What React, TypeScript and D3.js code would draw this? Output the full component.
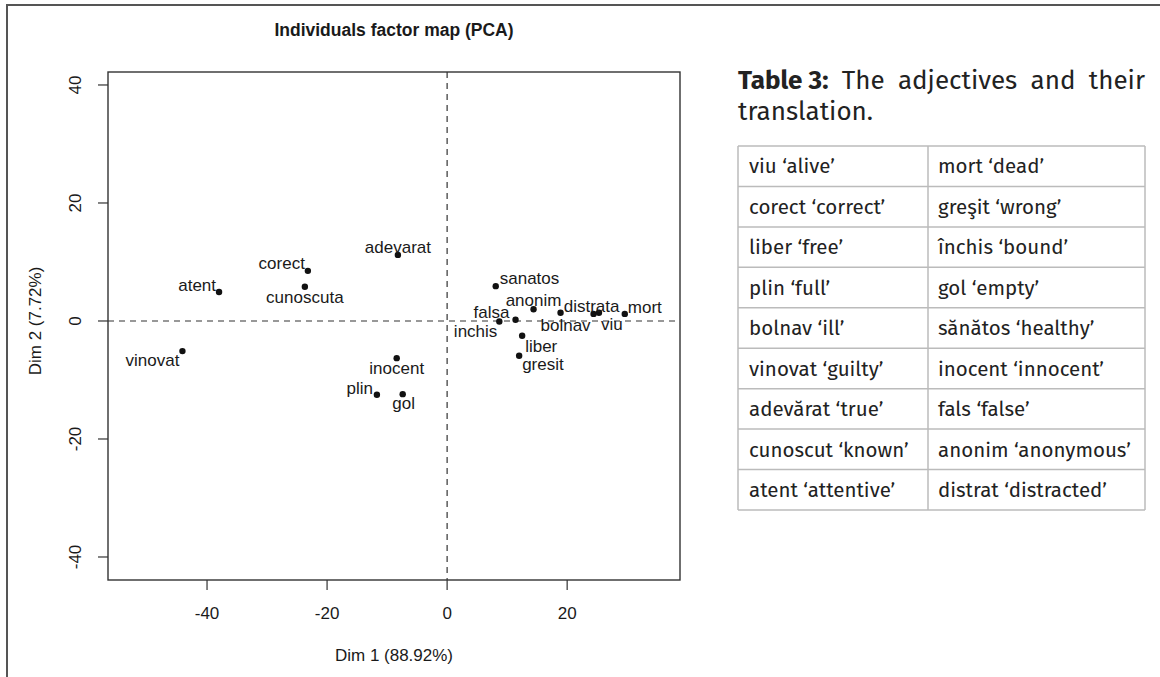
import React, { useEffect, useRef } from 'react';
import * as d3 from 'd3';

// PCA individuals (adjectives)
const words = ['vinovat', 'atent', 'corect', 'cunoscuta', 'adevarat', 'inocent', 'plin', 'gol',
  'sanatos', 'inchis', 'falsa', 'anonim', 'bolnav', 'distrata', 'viu', 'mort', 'liber', 'gresit'];
const dim1 = [-44.1, -38.0, -23.2, -23.7, -8.2, -8.4, -11.7, -7.4,
  8.1, 8.7, 11.4, 14.4, 18.9, 24.4, 25.3, 29.6, 12.5, 12.0];
const dim2 = [-5.1, 4.9, 8.5, 5.8, 11.2, -6.3, -12.5, -12.4,
  5.9, -0.1, 0.2, 2.0, 1.4, 1.2, 1.4, 1.2, -2.5, -5.9];

const xTicks = [-40, -20, 0, 20];
const yTicks = [-40, -20, 0, 20, 40];

const tableLeft = ['viu ‘alive’', 'corect ‘correct’', 'liber ‘free’', 'plin ‘full’', 'bolnav ‘ill’',
  'vinovat ‘guilty’', 'adevărat ‘true’', 'cunoscut ‘known’', 'atent ‘attentive’'];
const tableRight = ['mort ‘dead’', 'greşit ‘wrong’', 'închis ‘bound’', 'gol ‘empty’', 'sănătos ‘healthy’',
  'inocent ‘innocent’', 'fals ‘false’', 'anonim ‘anonymous’', 'distrat ‘distracted’'];

// where each label sits relative to its dot: anchor, dx, dy (px)
const labelPos: [string, number, number][] = [
  ['end', -3, 9], ['end', -3, -7], ['end', -3, -8], ['middle', 0, 10], ['middle', 0, -8],
  ['middle', 0, 10], ['end', -4, -7], ['middle', 1, 9], ['start', 4, -8], ['end', -2, 9],
  ['end', -6, -8], ['middle', 0, -9], ['middle', 5, 12], ['middle', -2, -8], ['start', 2, 11],
  ['start', 3, -7], ['start', 3, 10], ['start', 3, 8],
];

const rFont = '"Liberation Sans", Arial, Helvetica, sans-serif';
const tFont = '"Fira Sans", "Noto Sans", "Open Sans", sans-serif';

const App: React.FC = () => {
  const svgRef = useRef<SVGSVGElement>(null);

  useEffect(() => {
    if (!svgRef.current) return;
    const svg = d3.select(svgRef.current);
    svg.selectAll('*').remove();

    // page frame
    svg.append('path')
      .attr('d', 'M7,677V5H1160')
      .attr('fill', 'none')
      .attr('stroke', '#555')
      .attr('stroke-width', 2);

    const left = 108, right = 680, top = 72, bottom = 580;
    const x = d3.scaleLinear().domain([-56.5, 38.8]).range([left, right]);
    const y = d3.scaleLinear().domain([-43.9, 42.2]).range([bottom, top]);

    const g = svg.append('g').attr('font-family', rFont).attr('fill', '#1a1a1a');

    g.append('text')
      .attr('x', (left + right) / 2)
      .attr('y', 36)
      .attr('text-anchor', 'middle')
      .attr('font-size', 17.5)
      .attr('font-weight', 'bold')
      .text('Individuals factor map (PCA)');

    // reference lines
    g.append('line')
      .attr('x1', left).attr('x2', right).attr('y1', y(0)).attr('y2', y(0))
      .attr('stroke', '#333').attr('stroke-dasharray', '6,5').attr('stroke-width', 1.2);
    g.append('line')
      .attr('x1', x(0)).attr('x2', x(0)).attr('y1', top).attr('y2', bottom)
      .attr('stroke', '#333').attr('stroke-dasharray', '6,5').attr('stroke-width', 1.2);

    g.append('rect')
      .attr('x', left).attr('y', top)
      .attr('width', right - left).attr('height', bottom - top)
      .attr('fill', 'none').attr('stroke', '#333').attr('stroke-width', 1.4);

    // x axis
    const xa = g.append('g');
    xa.selectAll('line').data(xTicks).join('line')
      .attr('x1', d => x(d)).attr('x2', d => x(d))
      .attr('y1', bottom).attr('y2', bottom + 10)
      .attr('stroke', '#333').attr('stroke-width', 1.2);
    xa.selectAll('text').data(xTicks).join('text')
      .attr('x', d => x(d)).attr('y', bottom + 39)
      .attr('text-anchor', 'middle').attr('font-size', 17)
      .text(d => String(d));

    // y axis
    const ya = g.append('g');
    ya.selectAll('line').data(yTicks).join('line')
      .attr('x1', left).attr('x2', left - 10)
      .attr('y1', d => y(d)).attr('y2', d => y(d))
      .attr('stroke', '#333').attr('stroke-width', 1.2);
    ya.selectAll('text').data(yTicks).join('text')
      .attr('transform', d => `translate(${left - 27},${y(d)}) rotate(-90)`)
      .attr('text-anchor', 'middle').attr('font-size', 17)
      .text(d => String(d));

    g.append('text')
      .attr('x', (left + right) / 2).attr('y', 661)
      .attr('text-anchor', 'middle').attr('font-size', 17)
      .text('Dim 1 (88.92%)');
    g.append('text')
      .attr('transform', `translate(41,${y(0)}) rotate(-90)`)
      .attr('text-anchor', 'middle').attr('font-size', 17)
      .text('Dim 2 (7.72%)');

    // points + labels
    const idx = d3.range(words.length);
    g.append('g').selectAll('circle').data(idx).join('circle')
      .attr('cx', i => x(dim1[i])).attr('cy', i => y(dim2[i]))
      .attr('r', 3.2).attr('fill', '#111');
    g.append('g').selectAll('text').data(idx).join('text')
      .attr('x', i => x(dim1[i]) + labelPos[i][1])
      .attr('y', i => y(dim2[i]) + labelPos[i][2])
      .attr('dy', '0.35em')
      .attr('text-anchor', i => labelPos[i][0])
      .attr('font-size', 17)
      .text(i => words[i]);

    // table caption, justified first line
    const tl = 738, tr = 1145, tmid = 928;
    const cap = svg.append('g').attr('font-family', tFont).attr('fill', '#222').attr('font-size', 26);
    const capWords = ['Table 3:', 'The', 'adjectives', 'and', 'their'];
    const nodes = capWords.map((w, i) =>
      cap.append('text').attr('y', 89).attr('font-weight', i === 0 ? 'bold' : 'normal').text(w));
    const widths = nodes.map(n => (n.node() as SVGTextElement).getComputedTextLength());
    const gap = (tr - tl - d3.sum(widths)) / (capWords.length - 1);
    let cx = tl;
    nodes.forEach((n, i) => { n.attr('x', cx); cx += widths[i] + gap; });
    cap.append('text').attr('x', tl).attr('y', 120).text('translation.');

    // table
    const rows = d3.scaleBand<number>().domain(d3.range(tableLeft.length)).range([146, 510]);
    const tb = svg.append('g').attr('font-family', tFont).attr('font-size', 20.5).attr('fill', '#222');
    tb.selectAll('line.h').data(d3.range(tableLeft.length + 1)).join('line')
      .attr('class', 'h')
      .attr('x1', tl).attr('x2', tr)
      .attr('y1', i => 146 + i * rows.bandwidth()).attr('y2', i => 146 + i * rows.bandwidth())
      .attr('stroke', '#bbb').attr('stroke-width', 1.5);
    [tl, tmid, tr].forEach(xx => {
      tb.append('line').attr('x1', xx).attr('x2', xx).attr('y1', 146).attr('y2', 510)
        .attr('stroke', '#bbb').attr('stroke-width', 1.5);
    });
    tb.selectAll('text.l').data(tableLeft).join('text')
      .attr('class', 'l')
      .attr('x', tl + 11)
      .attr('y', (_, i) => (rows(i) as number) + rows.bandwidth() / 2)
      .attr('dy', '0.35em')
      .text(d => d);
    tb.selectAll('text.r').data(tableRight).join('text')
      .attr('class', 'r')
      .attr('x', tmid + 10)
      .attr('y', (_, i) => (rows(i) as number) + rows.bandwidth() / 2)
      .attr('dy', '0.35em')
      .text(d => d);
  }, []);

  return (
    <div style={{ position: 'absolute', left: 0, top: 0, background: '#fff' }}>
      <svg ref={svgRef} width={1160} height={677} style={{ display: 'block' }} />
    </div>
  );
};

export default App;
